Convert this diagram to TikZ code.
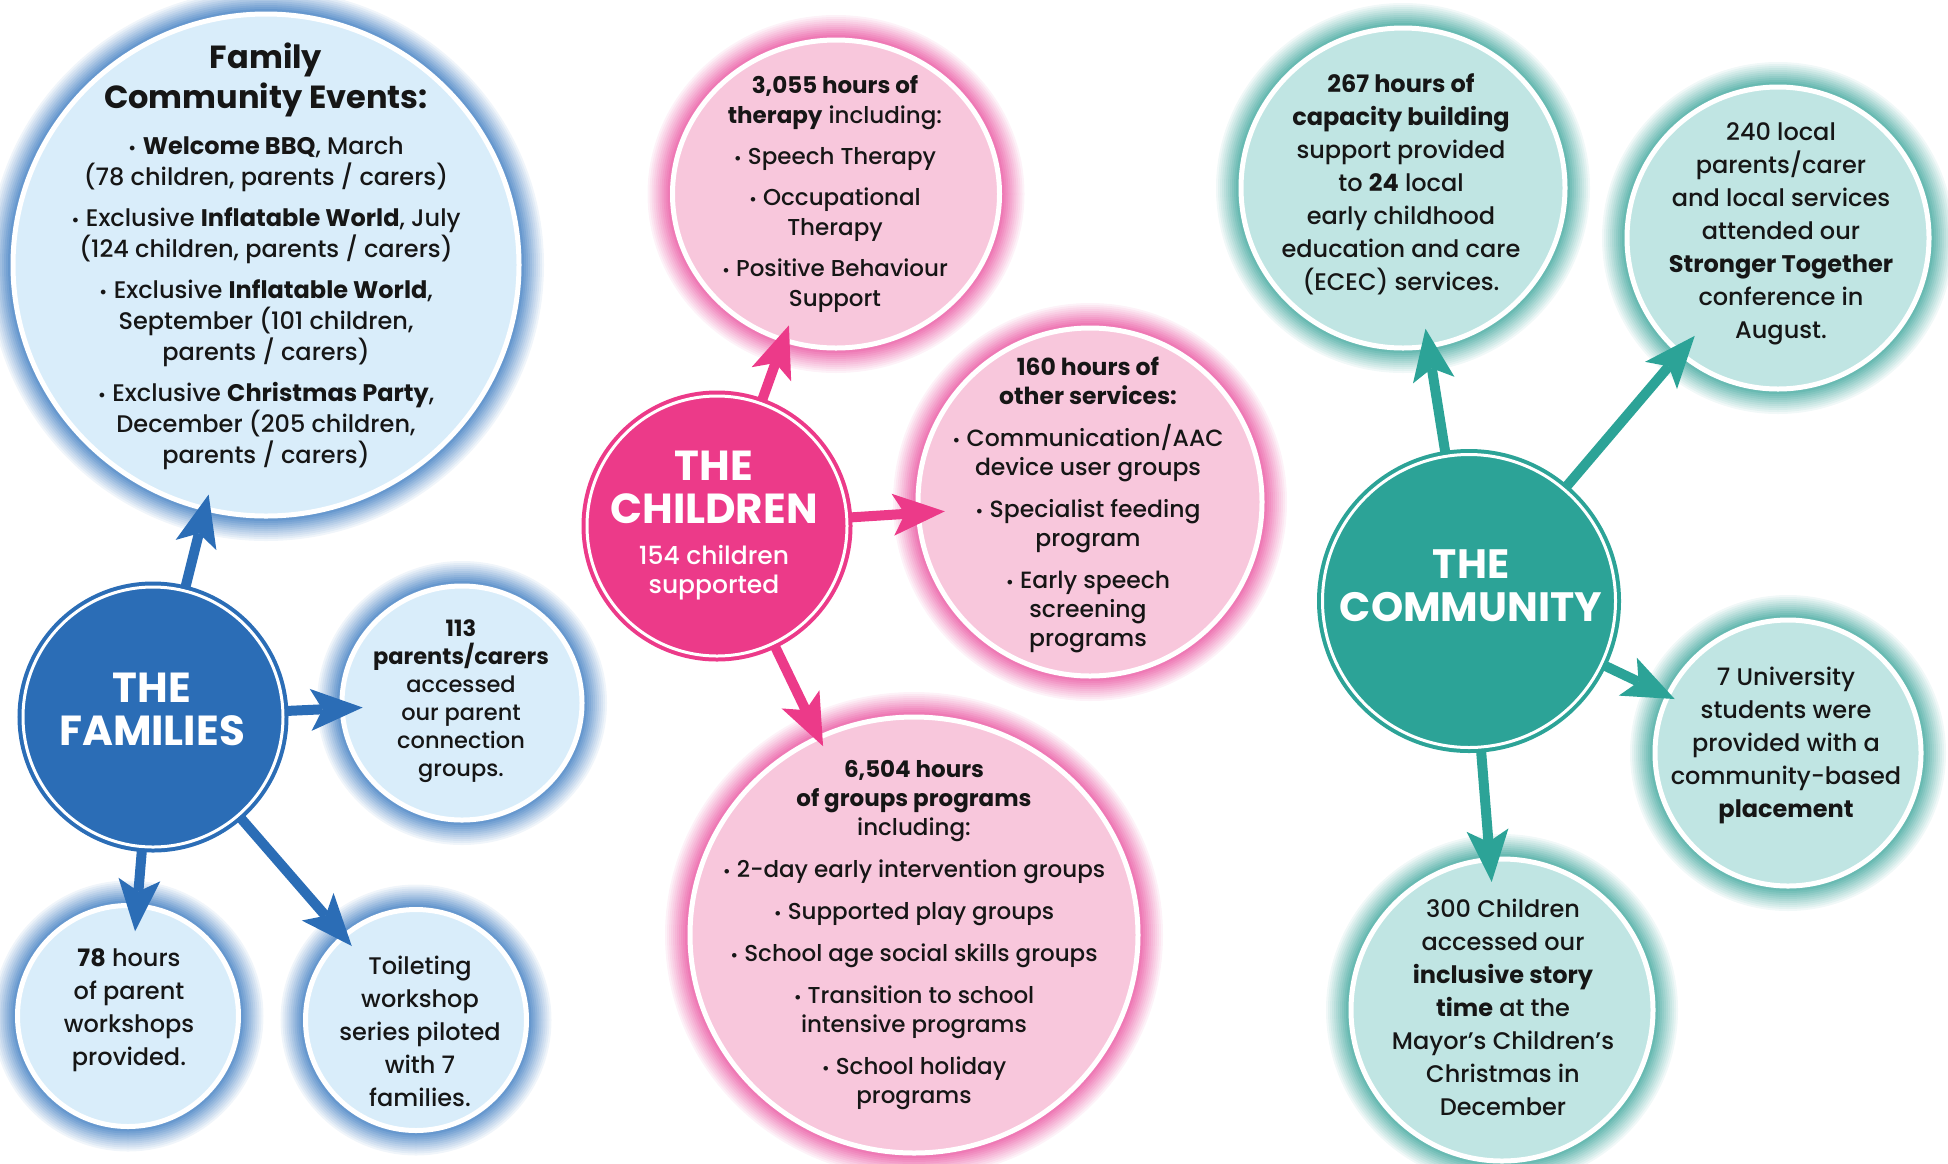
\documentclass[tikz,border=0pt]{standalone}
\usepackage{fontspec}
\setmainfont{Poppins}[UprightFont=* Medium, BoldFont=* Bold]
\usepackage{xcolor}
\usetikzlibrary{arrows.meta,shapes.geometric,positioning,calc}

\definecolor{famdark}{HTML}{2B6DB6}
\definecolor{famlight}{HTML}{D9EDFA}
\definecolor{famglow}{HTML}{2F72BC}
\definecolor{chidark}{HTML}{EC3A89}
\definecolor{chilight}{HTML}{F8C7DC}
\definecolor{chiglow}{HTML}{E8489A}
\definecolor{comdark}{HTML}{2CA397}
\definecolor{comlight}{HTML}{C0E5E3}
\definecolor{comglow}{HTML}{32A096}
\definecolor{ink}{HTML}{161616}

\newcommand{\bul}{\scalebox{.75}{•}\ }

\begin{document}
\begin{tikzpicture}[x=1pt,y=-1pt,
        % círculo central
        hub/.style = {
            ellipse,
            inner sep=0pt,
            fill=#1,
            draw=#1,
            line width=4pt,
            double=white,
            double distance=3pt
        },
        % círculos de resultados
        bubble/.style = {
            ellipse,
            inner sep=0pt,
            fill=#1,
            draw=white,
            line width=5pt
        },
        % brilho em volta
        glow/.style = {
            preaction={draw=#1, line width=50pt, opacity=.07},
            preaction={draw=#1, line width=46pt, opacity=.07},
            preaction={draw=#1, line width=42pt, opacity=.08},
            preaction={draw=#1, line width=38pt, opacity=.08},
            preaction={draw=#1, line width=34pt, opacity=.09},
            preaction={draw=#1, line width=30pt, opacity=.1},
            preaction={draw=#1, line width=26pt, opacity=.11},
            preaction={draw=#1, line width=22pt, opacity=.12},
            preaction={draw=#1, line width=18pt, opacity=.14},
            preaction={draw=#1, line width=14pt, opacity=.16},
            preaction={draw=#1, line width=10pt, opacity=.2}
        },
        % textos
        txt/.style = {
            align=center,
            text=ink,
            inner sep=0pt
        },
        hubtxt/.style = {
            align=center,
            text=white,
            inner sep=0pt
        },
        % setas
        edge arrow/.style = {
            draw=#1,
            line width=10pt,
            -{Stealth[length=52pt,width=42pt,inset=12pt,line width=0pt]}
        }
    ]
    \useasboundingbox (0,0) rectangle (1948,1163);

    % famílias
    \node[bubble=famlight, glow=famglow, minimum width=506pt, minimum height=502pt] (events) at (266,265) {};
    \node[bubble=famlight, glow=famglow, minimum width=240pt, minimum height=234pt] (parents) at (462,703) {};
    \node[bubble=famlight, glow=famglow, minimum size=221pt] (hours) at (128,1016) {};
    \node[bubble=famlight, glow=famglow, minimum size=221pt] (toilet) at (416,1020) {};
    \node[hub=famdark, minimum size=260pt] (families) at (153,717) {};

    \node[txt, font=\fontsize{32}{40}\selectfont\bfseries] (events-h) at (266,80) {Family\\Community Events:};
    \node[txt, font=\fontsize{24}{31}\selectfont] (events-t) at (266,303) {%
        \bul\textbf{Welcome BBQ}, March\\
        (78 children, parents / carers)\\[10pt]
        \bul Exclusive \textbf{Inflatable World}, July\\
        (124 children, parents / carers)\\[10pt]
        \bul Exclusive \textbf{Inflatable World},\\
        September (101 children,\\
        parents / carers)\\[10pt]
        \bul Exclusive \textbf{Christmas Party},\\
        December (205 children,\\
        parents / carers)};
    \node[txt, font=\fontsize{22.5}{28}\selectfont] (parents-t) at (461,701) {%
        \textbf{113}\\ \textbf{parents/carers}\\ accessed\\ our parent\\ connection\\ groups.};
    \node[txt, font=\fontsize{24}{33}\selectfont] (hours-t) at (129,1010) {%
        \textbf{78} hours\\ of parent\\ workshops\\ provided.};
    \node[txt, font=\fontsize{24}{33}\selectfont] (toilet-t) at (420,1031) {%
        Toileting\\ workshop\\ series piloted\\ with 7\\ families.};
    \node[hubtxt, font=\fontsize{42}{43}\selectfont\bfseries] (families-t) at (152,709) {THE\\FAMILIES};

    % crianças
    \node[bubble=chilight, glow=chiglow, minimum width=327pt, minimum height=308pt] (therapy) at (836,194) {};
    \node[bubble=chilight, glow=chiglow, minimum width=344pt, minimum height=348pt] (other) at (1090,502) {};
    \node[bubble=chilight, glow=chiglow, minimum width=448pt, minimum height=436pt] (groups) at (914,935) {};
    \node[hub=chidark, minimum size=260pt] (children) at (717,526) {};

    \node[txt, font=\fontsize{23}{30}\selectfont] (therapy-t) at (835,194) {%
        \textbf{3,055 hours of}\\ \textbf{therapy} including:\\[11pt]
        \bul Speech Therapy\\[11pt]
        \bul Occupational\\ Therapy\\[11pt]
        \bul Positive Behaviour\\ Support};
    \node[txt, font=\fontsize{23.5}{29}\selectfont] (other-t) at (1088,505) {%
        \textbf{160 hours of}\\ \textbf{other services:}\\[13pt]
        \bul Communication/AAC\\ device user groups\\[13pt]
        \bul Specialist feeding\\ program\\[13pt]
        \bul Early speech\\ screening\\ programs};
    \node[txt, font=\fontsize{23}{29}\selectfont] (groups-t) at (914,935) {%
        \textbf{6,504 hours}\\ \textbf{of groups programs}\\ including:\\[13pt]
        \bul 2-day early intervention groups\\[13pt]
        \bul Supported play groups\\[13pt]
        \bul School age social skills groups\\[13pt]
        \bul Transition to school\\ intensive programs\\[13pt]
        \bul School holiday\\ programs};
    \node[hubtxt, font=\fontsize{42}{43}\selectfont\bfseries] (children-h) at (714,487) {THE\\CHILDREN};
    \node[hubtxt, font=\fontsize{25}{29}\selectfont] (children-t) at (714,573) {154 children\\supported};

    % comunidade
    \node[bubble=comlight, glow=comglow, minimum width=324pt, minimum height=320pt] (capacity) at (1403,188) {};
    \node[bubble=comlight, glow=comglow, minimum size=302pt] (stronger) at (1778,238) {};
    \node[bubble=comlight, glow=comglow, minimum size=266pt] (univ) at (1788,753) {};
    \node[bubble=comlight, glow=comglow, minimum size=302pt] (story) at (1502,1010) {};
    \node[hub=comdark, minimum size=293pt] (community) at (1469,601) {};

    \node[txt, font=\fontsize{24}{33}\selectfont] (capacity-t) at (1401,184) {%
        \textbf{267 hours of}\\ \textbf{capacity building}\\ support provided\\ to \textbf{24} local\\
        early childhood\\ education and care\\ (ECEC) services.};
    \node[txt, font=\fontsize{24}{33}\selectfont] (stronger-t) at (1781,234) {%
        240 local\\ parents/carer\\ and local services\\ attended our\\
        \textbf{Stronger Together}\\ conference in\\ August.};
    \node[txt, font=\fontsize{24}{33}\selectfont] (univ-t) at (1786,745) {%
        7 University\\ students were\\ provided with a\\ community-based\\ \textbf{placement}};
    \node[txt, font=\fontsize{24}{33}\selectfont] (story-t) at (1503,1007) {%
        300 Children\\ accessed our\\ \textbf{inclusive story}\\ \textbf{time} at the\\
        Mayor’s Children’s\\ Christmas in\\ December};
    \node[hubtxt, font=\fontsize{41}{43}\selectfont\bfseries] (community-t) at (1471,586) {THE\\COMMUNITY};

    % setas
    \draw[edge arrow=famdark, shorten >=-17pt] (families) -- (events);
    \draw[edge arrow=famdark, shorten >=-23pt] (families) -- (parents);
    \draw[edge arrow=famdark, shorten >=-28pt] (families) -- (hours);
    \draw[edge arrow=famdark, shorten >=-15pt] (families) -- (toilet);
    \draw[edge arrow=chidark, shorten >=-18pt] (children) -- (therapy);
    \draw[edge arrow=chidark, shorten >=-29pt] (children) -- (other);
    \draw[edge arrow=chidark, shorten >=-12pt] (children) -- (groups);
    \draw[edge arrow=comdark, shorten >=-20pt] (community) -- (capacity);
    \draw[edge arrow=comdark, shorten >=-25pt] (community) -- (stronger);
    \draw[edge arrow=comdark, shorten >=-10pt] (community) -- (univ);
    \draw[edge arrow=comdark, shorten >=-25pt] (community) -- (story);
\end{tikzpicture}
\end{document}
